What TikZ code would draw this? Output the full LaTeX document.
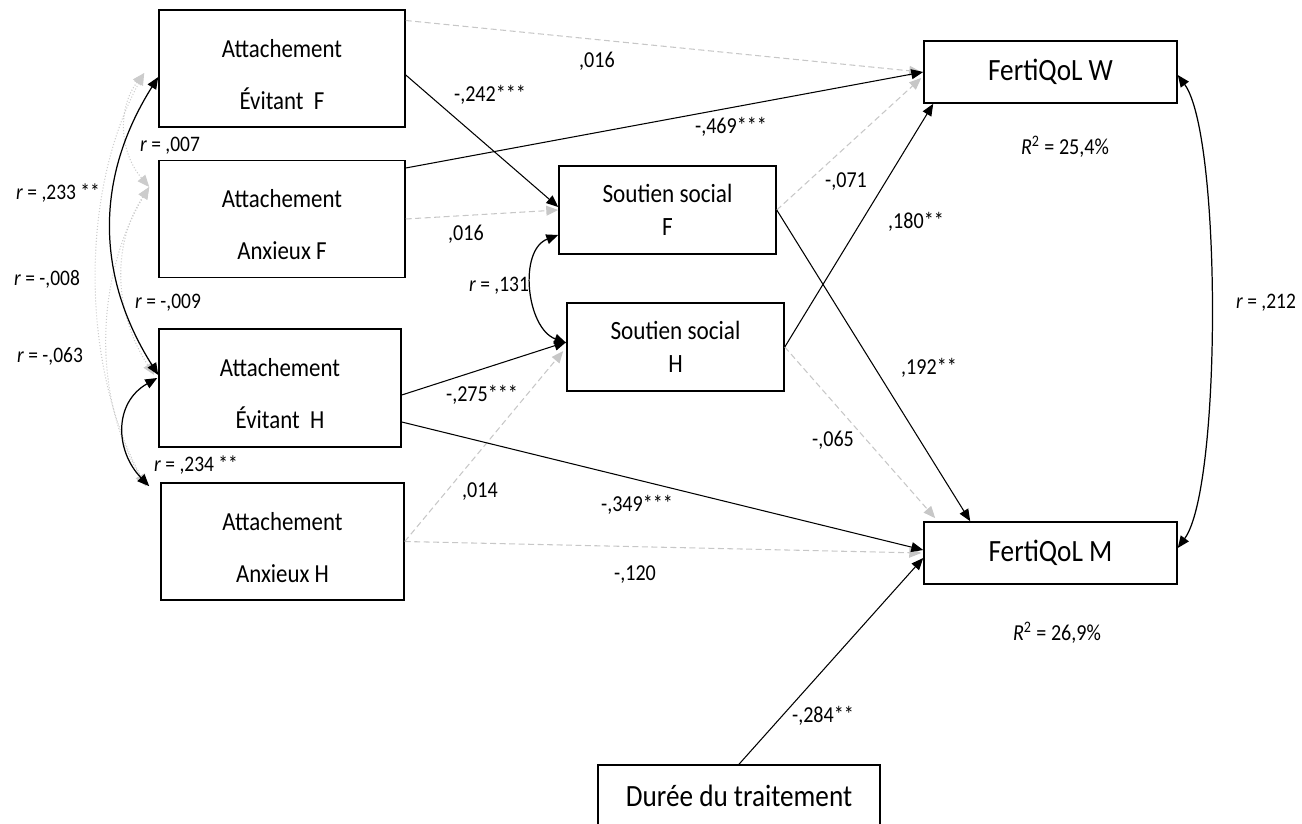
\documentclass[tikz,border=0pt]{standalone}
\usepackage{fontspec}
\setmainfont{Carlito}[FakeStretch=0.88]
\usetikzlibrary{arrows.meta,calc}

\begin{document}
\begin{tikzpicture}[x=0.02cm, y=-0.02cm,
  varbox/.style={draw, line width=0.9pt, align=center, inner sep=0pt, font=\fontsize{14.8}{29.5}\selectfont},
  socbox/.style={draw, line width=0.9pt, align=center, inner sep=0pt, minimum width=4.34cm, minimum height=1.76cm, font=\fontsize{15}{18.4}\selectfont},
  outbox/.style={draw, line width=0.9pt, inner sep=0pt, minimum height=1.24cm, font=\fontsize{17.6}{20}\selectfont},
  coef/.style={font=\fontsize{13}{15}\selectfont, inner sep=0pt},
  rlab/.style={font=\fontsize{12.6}{15}\selectfont, inner sep=0pt},
  tip/.tip={Triangle[length=6.8pt,width=5.6pt]},
  sigarrow/.style={-tip, line width=0.6pt},
  nsarrow/.style={-tip, draw=black!22, line width=0.6pt, dash pattern=on 3.4pt off 2pt},
  sigcorr/.style={tip-tip, line width=0.7pt},
  nscorr/.style={tip-tip, draw=black!20, line width=0.6pt, dash pattern=on 0.6pt off 1.1pt}]
  \useasboundingbox (0,0) rectangle (1302,824);

  \node[varbox, minimum width=4.92cm, minimum height=2.34cm] (aef) at (282,68.5) {\rule{0pt}{17pt}Attachement\\Évitant~~F};
  \node[varbox, minimum width=4.92cm, minimum height=2.34cm] (aaf) at (282,219) {\rule{0pt}{17pt}Attachement\\Anxieux F};
  \node[varbox, minimum width=4.84cm, minimum height=2.36cm] (aeh) at (280,388) {\rule{0pt}{17pt}Attachement\\Évitant~~H};
  \node[varbox, minimum width=4.86cm, minimum height=2.34cm] (aah) at (282.5,541.5) {\rule{0pt}{17pt}Attachement\\Anxieux H};
  \node[socbox] (ssf) at (667.5,210) {Soutien social\\F};
  \node[socbox] (ssh) at (675.5,347) {Soutien social\\H};
  \node[outbox, minimum width=5.06cm] (fqw) at (1050.5,72) {FertiQoL W};
  \node[outbox, minimum width=5.06cm] (fqm) at (1050.5,553) {FertiQoL M};
  \node[outbox, minimum width=5.64cm] (dur) at (739,796) {Durée du traitement};

  \draw[nsarrow] ($(aef.east)+(0,-48)$) -- ($(fqw.west)+(-2,0)$);
  \draw[nsarrow] (aaf.east) -- (ssf.west);
  \draw[nsarrow] (ssf.east) -- ($(fqw.west)+(-2,6)$);
  \draw[nsarrow] (ssh.east) -- ($(fqm.north west)+(12,-3)$);
  \draw[nsarrow] (aah.east) -- ($(ssh.west)+(-3,4)$);
  \draw[nsarrow] (aah.east) -- ($(fqm.west)+(-2,0)$);

  \draw[sigarrow] ($(aef.east)+(0,6.5)$) -- ($(ssf.west)+(0,-3)$);
  \draw[sigarrow] ($(aaf.east)+(0,-51)$) -- (fqw.west);
  \draw[sigarrow] (ssf.east) -- ($(fqm.north west)+(47,0)$);
  \draw[sigarrow] (ssh.east) -- ($(fqw.south west)+(10,0)$);
  \draw[sigarrow] ($(aeh.east)+(0,7)$) -- ($(ssh.west)+(0,-5)$);
  \draw[sigarrow] ($(aeh.east)+(0,34)$) -- ($(fqm.west)+(0,-3)$);
  \draw[sigarrow] (dur.north) -- ($(fqm.west)+(0,5)$);

  \draw[sigcorr] ($(fqw.east)+(0,3)$) .. controls +(44,60) and +(44,-60) .. ($(fqm.east)+(0,-5)$);
  \draw[sigcorr] ($(ssf.west)+(0,25)$) .. controls +(-40,15) and +(-40,-15) .. ($(ssh.west)+(0,-4)$);

  \draw[nscorr] ($(aef.west)+(-14,4.5)$) .. controls +(-27,35) and +(-30,-35) .. ($(aaf.west)+(-9,-32)$);
  \draw[nscorr] ($(aef.west)+(-14,4.5)$) .. controls +(-65,120) and +(-65,-120) .. ($(aah.north west)+(-14,4)$);
  \draw[nscorr] ($(aaf.west)+(-9,-32)$) .. controls +(-39,60) and +(-39,-60) .. ($(aeh.west)+(-4,-13)$);
  \draw[nscorr] ($(aaf.west)+(-9,-32)$) .. controls +(-54,90) and +(-54,-90) .. ($(aah.north west)+(-14,4)$);
  \draw[sigcorr] ($(aef.west)+(0,8.5)$) .. controls +(-63,100) and +(-63,-100) .. ($(aeh.west)+(0,-13)$);
  \draw[sigcorr] ($(aeh.west)+(-1,-10)$) .. controls +(-44,25) and +(-34,-35) .. ($(aah.north west)+(-11,4)$);

  \node[rlab] (r233) at (58,193) {\textit{r} = ,233 **};
  \node[rlab] (r007) at (170,146) {\textit{r} = ,007};
  \node[rlab] (r008) at (47,279) {\textit{r} = -,008};
  \node[rlab] (r009) at (168,303) {\textit{r} = -,009};
  \node[rlab] (r063) at (50,356) {\textit{r} = -,063};
  \node[rlab] (r234) at (196,465) {\textit{r} = ,234 **};
  \node[rlab] (r131) at (499,286) {\textit{r} = ,131};
  \node[rlab] (r212) at (1266,303) {\textit{r} = ,212};

  \node[coef] (c016a) at (597,61) {,016};
  \node[coef] (c242) at (490,95) {-,242***};
  \node[coef] (c469) at (731,127) {-,469***};
  \node[coef] (c016b) at (466,234) {,016};
  \node[coef] (c275) at (482,395) {-,275***};
  \node[coef] (c014) at (480,492) {,014};
  \node[coef] (c349) at (637,505) {-,349***};
  \node[coef] (c120) at (635,575) {-,120};
  \node[coef] (c071) at (846,182) {-,071};
  \node[coef] (c180) at (916,222) {,180**};
  \node[coef] (c192) at (929,368) {,192**};
  \node[coef] (c065) at (833,440) {-,065};
  \node[coef] (c284) at (823,716) {-,284**};
  \node[coef] (rsqw) at (1065,147) {\textit{R}\textsuperscript{2} = 25,4\%};
  \node[coef] (rsqm) at (1057,633) {\textit{R}\textsuperscript{2} = 26,9\%};
\end{tikzpicture}
\end{document}
